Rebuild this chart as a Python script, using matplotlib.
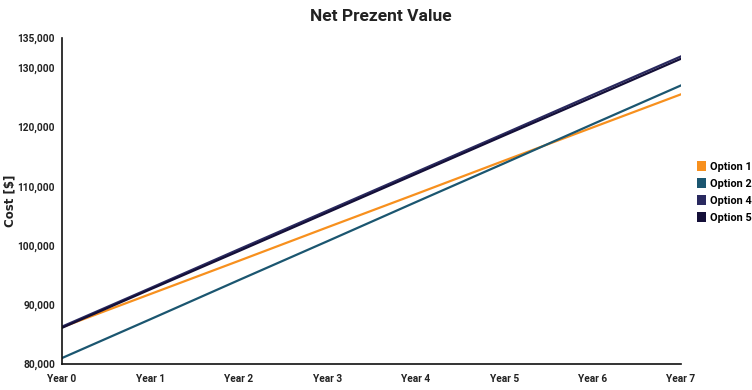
import matplotlib
matplotlib.use("Agg")
import matplotlib.pyplot as plt
from matplotlib.patches import Patch
from matplotlib.ticker import FuncFormatter

years = ["Year 0", "Year 1", "Year 2", "Year 3", "Year 4", "Year 5", "Year 6", "Year 7"]
option1 = [86200, 91800, 97400, 103050, 108650, 114300, 119900, 125500]
option2 = [81000, 87550, 94150, 100700, 107300, 113850, 120450, 127000]
option4 = [86300, 92800, 99350, 105850, 112350, 118850, 125400, 131900]
option5 = [86100, 92600, 99050, 105550, 112050, 118550, 125000, 131500]
y_ticks = [80000, 90000, 100000, 110000, 120000, 130000, 135000]

series = [
    ("Option 1", option1, "#F7901E"),
    ("Option 2", option2, "#1B5670"),
    ("Option 4", option4, "#29295F"),
    ("Option 5", option5, "#140F38"),
]

narrow = ["Roboto", "DejaVu Sans"]

fig = plt.figure(figsize=(7.52, 3.9), dpi=100)
ax = fig.add_axes([0.0824, 0.0667, 0.8232, 0.8359])

x = list(range(len(years)))
for name, vals, color in series:
    ax.plot(x, vals, color=color, linewidth=1.6, label=name)

ax.set_xlim(0, len(years) - 1)
ax.set_ylim(80000, 135000)
ax.set_xticks(x)
ax.set_xticklabels(years)
ax.set_yticks(y_ticks)
ax.yaxis.set_major_formatter(FuncFormatter(lambda v, p: f"{int(v):,}"))
ax.tick_params(length=0, labelsize=7.3, colors="#222222")
ax.tick_params(axis="y", pad=5)
ax.tick_params(axis="x", pad=7)
for lab in ax.get_xticklabels() + ax.get_yticklabels():
    lab.set_fontfamily(narrow)
    lab.set_fontweight("bold")

for side in ("top", "right"):
    ax.spines[side].set_visible(False)
for side in ("left", "bottom"):
    ax.spines[side].set_color("#111111")
    ax.spines[side].set_linewidth(1.2)

ax.set_ylabel("Cost [$]", fontsize=8.5, fontweight="bold", family="DejaVu Sans",
              color="#222222")
ax.yaxis.set_label_coords(-0.074, 0.5)

fig.text(0.507, 0.957, "Net Prezent Value", ha="center", va="center",
         fontsize=12.5, fontweight="bold", family=narrow, color="#222222")

handles = [Patch(facecolor=c, edgecolor="none") for _, _, c in series]
labels = [n for n, _, _ in series]
leg = fig.legend(handles, labels, loc="center left", bbox_to_anchor=(0.914, 0.508),
                 frameon=False, handlelength=0.8, handleheight=1.0, handletextpad=0.35,
                 labelspacing=0.6, prop={"family": narrow, "weight": "bold", "size": 7.8})

fig.savefig("out.png", dpi=100)
